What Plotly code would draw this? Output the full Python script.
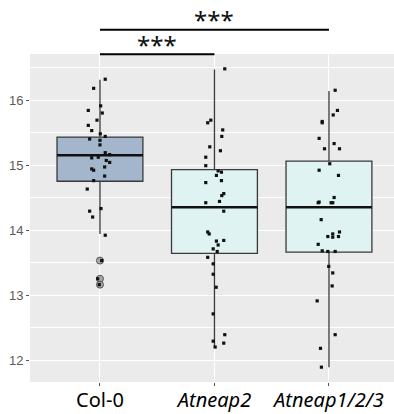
import plotly.graph_objects as go

# ---- data ----
categories = ["Col-0", "Atneap2", "Atneap1/2/3"]
tick_labels = ["Col-0", "<i>Atneap2</i>", "<i>Atneap1/2/3</i>"]
positions = [1, 2, 3]
q1 = [14.75, 13.64, 13.66]
median = [15.15, 14.35, 14.35]
q3 = [15.43, 14.93, 15.06]
lower_whisker = [13.94, 12.20, 11.89]
upper_whisker = [16.31, 16.47, 16.14]
fill_colors = ["#A3B6CC", "#DFF3F2", "#DFF3F2"]
outliers_col0 = [13.53, 13.25, 13.16]

col0_values = [16.32, 16.18, 15.91, 15.84, 15.80, 15.69, 15.61, 15.53, 15.48, 15.44,
               15.40, 15.38, 15.31, 15.19, 15.16, 15.11, 15.12, 15.07, 15.04, 14.97,
               14.94, 14.92, 14.83, 14.76, 14.63, 14.33, 14.29, 14.20, 13.92, 13.53,
               13.25, 13.16]
col0_jitter = [0.046, -0.055, 0.006, -0.102, 0.020, -0.026, -0.102, -0.072, 0.003, 0.046,
               -0.090, 0.0, 0.0, 0.046, 0.085, -0.072, -0.015, 0.055, 0.085, 0.041,
               -0.072, -0.055, 0.041, -0.055, -0.111, 0.009, -0.090, -0.064, 0.046, 0.015,
               -0.020, -0.006]

atneap2_values = [16.48, 15.69, 15.65, 15.54, 15.44, 15.28, 15.22, 15.12, 14.99, 14.91,
                  14.89, 14.84, 14.76, 14.73, 14.56, 14.53, 14.44, 14.42, 14.29, 13.97,
                  13.94, 13.84, 13.83, 13.77, 13.71, 13.67, 13.58, 13.48, 13.32, 13.12,
                  12.71, 12.39, 12.29, 12.26, 12.20]
atneap2_jitter = [0.090, -0.032, -0.059, 0.072, 0.064, -0.041, 0.052, -0.076, -0.076, 0.032,
                  0.061, 0.017, 0.061, -0.076, 0.081, 0.064, 0.044, -0.076, 0.081, -0.059,
                  -0.046, 0.081, 0.017, 0.032, -0.011, 0.024, -0.059, -0.011, -0.011, 0.015,
                  -0.011, 0.090, -0.011, 0.081, 0.006]

atneap123_values = [16.15, 15.84, 15.77, 15.67, 15.65, 15.41, 15.33, 15.25, 15.25, 15.02,
                    14.92, 14.84, 14.50, 14.43, 14.42, 14.42, 14.42, 14.16, 13.97, 13.94,
                    13.90, 13.89, 13.90, 13.78, 13.68, 13.67, 13.67, 13.44, 13.34, 13.14,
                    12.91, 12.39, 12.18, 11.89]
atneap123_jitter = [0.054, 0.074, 0.037, -0.059, -0.059, -0.086, 0.045, -0.039, 0.092, 0.007,
                    -0.086, 0.083, 0.045, -0.086, -0.094, 0.019, 0.033, -0.068, 0.092, 0.033,
                    -0.010, 0.033, 0.083, -0.094, -0.059, -0.010, 0.054, -0.002, 0.033, 0.028,
                    -0.103, 0.054, -0.074, -0.066]

# significance comparisons: (from index, to index, label)
comparisons = [(0, 1, "***"), (0, 2, "***")]

BOX_WIDTH = 0.75

fig = go.Figure()

for i, cat in enumerate(categories):
    fig.add_trace(go.Box(
        x=[positions[i]], q1=[q1[i]], median=[median[i]], q3=[q3[i]],
        lowerfence=[lower_whisker[i]], upperfence=[upper_whisker[i]],
        width=BOX_WIDTH, whiskerwidth=0, boxpoints=False,
        fillcolor=fill_colors[i], line=dict(color="#3a3a3a", width=1.3),
        name=cat, showlegend=False, hoverinfo="skip",
    ))
    # thicker median line (ggplot style)
    fig.add_trace(go.Scatter(
        x=[positions[i] - BOX_WIDTH / 2, positions[i] + BOX_WIDTH / 2],
        y=[median[i], median[i]], mode="lines",
        line=dict(color="#111111", width=2.4), showlegend=False, hoverinfo="skip",
    ))

# outliers
fig.add_trace(go.Scatter(
    x=[positions[0]] * len(outliers_col0), y=outliers_col0, mode="markers",
    marker=dict(size=7, color="rgba(150,150,150,0.8)", line=dict(color="#555555", width=1)),
    showlegend=False, hoverinfo="skip",
))

# jittered points
for i, (vals, jit) in enumerate([(col0_values, col0_jitter),
                                 (atneap2_values, atneap2_jitter),
                                 (atneap123_values, atneap123_jitter)]):
    fig.add_trace(go.Scatter(
        x=[positions[i] + j for j in jit], y=vals, mode="markers",
        marker=dict(size=3.2, color="#111111", symbol="square"),
        showlegend=False, hoverinfo="skip",
    ))

# significance bars
bar_levels = [0.999, 1.074]
star_levels = [1.029, 1.104]
for k, (a, b, lab) in enumerate(comparisons):
    fig.add_shape(type="line", xref="x", yref="paper",
                  x0=positions[a], x1=positions[b], y0=bar_levels[k], y1=bar_levels[k],
                  line=dict(color="#000000", width=2))
    fig.add_annotation(x=(positions[a] + positions[b]) / 2, y=star_levels[k],
                       xref="x", yref="paper", text=lab, showarrow=False,
                       yanchor="middle", font=dict(size=24, color="#111111", family="Noto Sans"))

fig.update_layout(
    width=394, height=414,
    margin=dict(l=30, r=0, t=54, b=32, autoexpand=False),
    paper_bgcolor="white", plot_bgcolor="#EBEBEB",
    showlegend=False,
    xaxis=dict(
        range=[0.389, 3.568], tickvals=positions, ticktext=tick_labels,
        showgrid=True, gridcolor="white", gridwidth=1.3, zeroline=False,
        ticks="outside", ticklen=3, tickcolor="#555555", automargin=False,
        ticklabelstandoff=-3,
        tickfont=dict(family="Noto Sans", size=20, color="#000000"),
        showline=False,
    ),
    yaxis=dict(
        range=[11.662, 16.708], tickvals=[12, 13, 14, 15, 16],
        showgrid=True, gridcolor="white", gridwidth=1.3, zeroline=False,
        ticks="outside", ticklen=3, tickcolor="#555555", automargin=False,
        tickfont=dict(family="Liberation Sans", size=13, color="#5a5a5a"),
        minor=dict(dtick=0.5, showgrid=True, gridcolor="white", gridwidth=0.6),
        showline=False,
    ),
)

fig.write_html("out.html", config={"displayModeBar": False},
               post_script="document.body.style.margin='0';document.body.style.overflow='hidden';")
